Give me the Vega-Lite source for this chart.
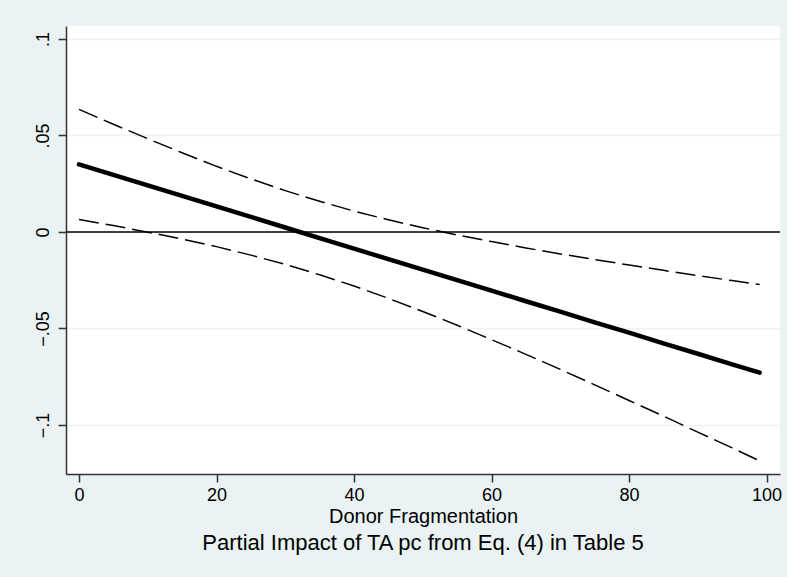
{
  "$schema": "https://vega.github.io/schema/vega-lite/v6.json",
  "width": 714,
  "height": 448,
  "autosize": "none",
  "padding": {"left": 66, "top": 26, "right": 7, "bottom": 103},
  "background": "#EAF2F3",
  "config": {
    "view": {"fill": "white", "stroke": null},
    "font": "Liberation Sans",
    "axis": {
      "domainColor": "#333333",
      "domainWidth": 1.5,
      "tickColor": "#333333",
      "tickWidth": 1.5,
      "tickSize": 8,
      "labelColor": "black",
      "labelFontSize": 18,
      "titleColor": "black",
      "titleFontSize": 20,
      "titleFontWeight": "normal",
      "gridColor": "#EAF2F3",
      "gridWidth": 1.5
    }
  },
  "title": {
    "text": "Partial Impact of TA pc from Eq. (4) in Table 5",
    "orient": "bottom",
    "anchor": "middle",
    "fontSize": 22,
    "fontWeight": "normal",
    "color": "black",
    "offset": 7
  },
  "datasets": {
    "est": [
      {"x": 0, "fit": 0.0350, "lo": 0.0065, "hi": 0.0635},
      {"x": 5, "fit": 0.0296, "lo": 0.0033, "hi": 0.0558},
      {"x": 10, "fit": 0.0241, "lo": -0.0001, "hi": 0.0483},
      {"x": 15, "fit": 0.0187, "lo": -0.0037, "hi": 0.0410},
      {"x": 20, "fit": 0.0132, "lo": -0.0076, "hi": 0.0340},
      {"x": 25, "fit": 0.0078, "lo": -0.0120, "hi": 0.0275},
      {"x": 30, "fit": 0.0023, "lo": -0.0168, "hi": 0.0214},
      {"x": 35, "fit": -0.0032, "lo": -0.0222, "hi": 0.0159},
      {"x": 40, "fit": -0.0086, "lo": -0.0280, "hi": 0.0108},
      {"x": 45, "fit": -0.0141, "lo": -0.0344, "hi": 0.0063},
      {"x": 50, "fit": -0.0195, "lo": -0.0412, "hi": 0.0022},
      {"x": 55, "fit": -0.0250, "lo": -0.0483, "hi": -0.0016},
      {"x": 60, "fit": -0.0304, "lo": -0.0558, "hi": -0.0050},
      {"x": 65, "fit": -0.0359, "lo": -0.0634, "hi": -0.0083},
      {"x": 70, "fit": -0.0413, "lo": -0.0712, "hi": -0.0114},
      {"x": 75, "fit": -0.0468, "lo": -0.0792, "hi": -0.0143},
      {"x": 80, "fit": -0.0522, "lo": -0.0873, "hi": -0.0171},
      {"x": 85, "fit": -0.0577, "lo": -0.0954, "hi": -0.0199},
      {"x": 90, "fit": -0.0631, "lo": -0.1037, "hi": -0.0226},
      {"x": 95, "fit": -0.0686, "lo": -0.1119, "hi": -0.0252},
      {"x": 99, "fit": -0.0729, "lo": -0.1186, "hi": -0.0272}
    ],
    "zero": [{"y": 0}]
  },
  "layer": [
    {
      "data": {"name": "zero"},
      "mark": {"type": "rule", "color": "black", "strokeWidth": 1.5},
      "encoding": {
        "y": {
          "field": "y",
          "type": "quantitative",
          "scale": {"domain": [-0.1254, 0.1067], "nice": false, "zero": false},
          "axis": {
            "title": null,
            "values": [-0.1, -0.05, 0, 0.05, 0.1],
            "labelAngle": -90,
            "labelAlign": "center",
            "labelBaseline": "bottom",
            "labelPadding": 6,
            "grid": true,
            "labelExpr": "datum.value == 0 ? '0' : replace(format(datum.value, '.2~f'), '0.', '.')"
          }
        }
      }
    },
    {
      "data": {"name": "est"},
      "mark": {"type": "line", "color": "black", "strokeWidth": 1.5, "strokeDash": [20, 7]},
      "encoding": {
        "x": {
          "field": "x",
          "type": "quantitative",
          "title": "Donor Fragmentation",
          "scale": {"domain": [-1.89, 101.96], "nice": false, "zero": false},
          "axis": {"values": [0, 20, 40, 60, 80, 100], "grid": false, "labelPadding": 4, "titlePadding": 2}
        },
        "y": {"field": "hi", "type": "quantitative"}
      }
    },
    {
      "data": {"name": "est"},
      "mark": {"type": "line", "color": "black", "strokeWidth": 1.5, "strokeDash": [20, 7]},
      "encoding": {
        "x": {"field": "x", "type": "quantitative"},
        "y": {"field": "lo", "type": "quantitative"}
      }
    },
    {
      "data": {"name": "est"},
      "mark": {"type": "line", "color": "black", "strokeWidth": 4.5, "strokeCap": "round"},
      "encoding": {
        "x": {"field": "x", "type": "quantitative"},
        "y": {"field": "fit", "type": "quantitative"}
      }
    }
  ]
}
